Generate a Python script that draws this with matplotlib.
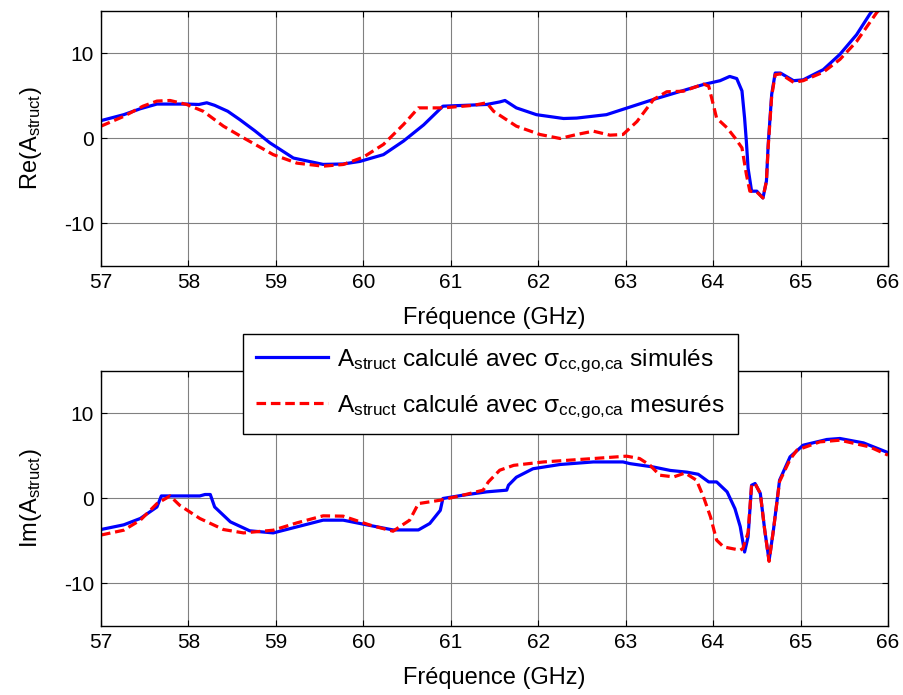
import matplotlib
matplotlib.use('Agg')
import matplotlib.pyplot as plt

plt.rcParams['font.family'] = ['Liberation Sans', 'DejaVu Sans']
plt.rcParams['mathtext.fontset'] = 'custom'
plt.rcParams['mathtext.rm'] = 'Liberation Sans'
plt.rcParams['mathtext.it'] = 'Liberation Sans:italic'
plt.rcParams['axes.unicode_minus'] = False

# Re(A_struct), simulated sigma (blue)
re_sim_f = [57.0, 57.26, 57.45, 57.64, 57.98, 58.12, 58.21, 58.3, 58.45, 58.59, 58.76, 58.93, 59.2,
            59.54, 59.77, 59.96, 60.23, 60.46, 60.69, 60.91, 61.41, 61.56, 61.62, 61.75, 61.98,
            62.29, 62.44, 62.78, 63.05, 63.32, 63.58, 63.89, 64.08, 64.19, 64.27, 64.33, 64.36,
            64.38, 64.40, 64.44, 64.50, 64.57, 64.61, 64.63, 64.67, 64.71, 64.77, 64.92, 65.03,
            65.26, 65.45, 65.64, 65.79, 66.0]
re_sim = [2.1, 2.8, 3.5, 4.05, 4.05, 4.0, 4.2, 3.9, 3.2, 2.2, 0.9, -0.5, -2.3,
          -3.05, -3.0, -2.7, -1.9, -0.3, 1.6, 3.8, 4.0, 4.3, 4.47, 3.6, 2.8,
          2.35, 2.4, 2.8, 3.7, 4.6, 5.4, 6.35, 6.8, 7.3, 7.05, 5.6, 2.4,
          -0.3, -3.5, -6.2, -6.2, -7.0, -5.0, -0.7, 5.2, 7.7, 7.7, 6.8, 6.9,
          8.1, 9.9, 12.2, 14.6, 17.5]

# Re(A_struct), measured sigma (red)
re_mes_f = [57.0, 57.26, 57.48, 57.64, 57.79, 57.98, 58.17, 58.4, 58.63, 58.97, 59.24, 59.54,
            59.77, 60.0, 60.23, 60.46, 60.63, 60.91, 61.26, 61.41, 61.49, 61.75, 62.02, 62.25,
            62.44, 62.63, 62.82, 62.97, 63.13, 63.32, 63.47, 63.66, 63.89, 63.95, 64.04, 64.16,
            64.25, 64.33, 64.38, 64.42, 64.50, 64.57, 64.61, 64.63, 64.67, 64.71, 64.77, 64.92,
            65.03, 65.26, 65.45, 65.64, 65.87, 66.0]
re_mes = [1.45, 2.6, 3.8, 4.4, 4.47, 4.0, 3.2, 1.45, 0.07, -1.9, -2.9, -3.26,
          -3.06, -2.2, -0.7, 1.65, 3.6, 3.6, 3.9, 4.2, 3.2, 1.45, 0.47, 0.0,
          0.47, 0.86, 0.39, 0.47, 2.0, 4.6, 5.5, 5.56, 6.4, 6.15, 2.4, 1.25,
          0.07, -1.1, -4.2, -6.2, -6.3, -7.0, -5.0, -1.0, 5.0, 7.5, 7.6, 6.6,
          6.8, 7.8, 9.3, 11.4, 14.8, 16.3]

# Im(A_struct), simulated sigma (blue)
im_sim_f = [57.0, 57.26, 57.45, 57.64, 57.69, 58.13, 58.19, 58.25, 58.3, 58.48, 58.7, 58.97,
            59.24, 59.54, 59.77, 60.04, 60.34, 60.63, 60.76, 60.88, 60.91, 61.14, 61.41, 61.64,
            61.66, 61.75, 61.94, 62.25, 62.63, 62.97, 63.05, 63.32, 63.51, 63.7, 63.83, 63.95,
            64.04, 64.16, 64.25, 64.31, 64.36, 64.40, 64.44, 64.48, 64.54, 64.59, 64.64, 64.69,
            64.76, 64.88, 65.03, 65.3, 65.45, 65.72, 66.0]
im_sim = [-3.65, -3.1, -2.35, -1.0, 0.3, 0.3, 0.47, 0.47, -1.0, -2.75, -3.8, -4.05,
          -3.34, -2.55, -2.55, -3.1, -3.7, -3.7, -2.94, -1.4, 0.0, 0.39, 0.78, 0.98,
          1.56, 2.5, 3.5, 4.0, 4.3, 4.3, 4.1, 3.7, 3.3, 3.1, 2.85, 1.95,
          1.95, 0.78, -1.2, -3.3, -6.3, -4.5, 1.56, 1.76, 0.59, -3.7, -7.3, -3.7,
          2.15, 4.9, 6.27, 6.94, 7.06, 6.54, 5.4]

# Im(A_struct), measured sigma (red)
im_mes_f = [57.0, 57.26, 57.45, 57.64, 57.79, 57.9, 58.13, 58.4, 58.63, 58.97, 59.24, 59.54,
            59.77, 60.08, 60.34, 60.53, 60.63, 60.88, 61.14, 61.37, 61.43, 61.56, 61.72, 62.06,
            62.63, 63.01, 63.16, 63.28, 63.39, 63.55, 63.68, 63.81, 63.89, 63.97, 64.04, 64.12,
            64.31, 64.34, 64.40, 64.44, 64.48, 64.54, 64.59, 64.64, 64.69, 64.76, 64.88, 64.96,
            65.22, 65.45, 65.79, 66.0]
im_mes = [-4.3, -3.73, -2.55, -0.6, 0.3, -0.8, -2.35, -3.65, -4.05, -3.73, -2.87, -2.04,
          -2.08, -3.14, -3.85, -2.55, -0.6, -0.2, 0.39, 0.98, 1.95, 3.33, 3.9, 4.3,
          4.7, 4.98, 4.7, 3.9, 2.74, 2.54, 3.0, 2.15, 0.19, -2.16, -4.9, -5.7,
          -6.08, -5.9, -4.0, 1.56, 1.76, 0.59, -3.7, -7.4, -3.7, 2.0, 4.6, 5.7,
          6.66, 6.86, 6.07, 5.1]

x_ticks = [57, 58, 59, 60, 61, 62, 63, 64, 65, 66]
y_ticks = [-10, 0, 10]

fig = plt.figure(figsize=(9.04, 6.95), dpi=100)
ax1 = fig.add_axes([0.1117, 0.6173, 0.8706, 0.3669])
ax2 = fig.add_axes([0.1117, 0.0993, 0.8706, 0.3669])

fs_tick = 15
fs_lab = 17
lw = 2.3
for ax, fsim, ys, fm, ym, lab in [(ax1, re_sim_f, re_sim, re_mes_f, re_mes, 'Re'),
                                   (ax2, im_sim_f, im_sim, im_mes_f, im_mes, 'Im')]:
    l1, = ax.plot(fsim, ys, color='#0000ff', lw=lw, solid_joinstyle='round')
    l2, = ax.plot(fm, ym, color='#ff0000', lw=lw, linestyle=(0, (3, 1.5)))
    ax.set_xlim(57, 66)
    ax.set_ylim(-15, 15)
    ax.set_xticks(x_ticks)
    ax.set_yticks(y_ticks)
    ax.grid(True, color='#808080', lw=0.8)
    ax.tick_params(direction='in', top=True, right=True, length=4, labelsize=fs_tick,
                   width=0.8, pad=5)
    ax.set_xlabel('Fréquence (GHz)', fontsize=fs_lab, labelpad=11)
    ax.set_ylabel(lab + r'(A$_{\text{struct}}$)', fontsize=fs_lab, labelpad=14)
    for s in ax.spines.values():
        s.set_linewidth(1.0)

leg = fig.legend([l1, l2],
                 [r'A$_{\text{struct}}$ calculé avec σ$_{\text{cc,go,ca}}$ simulés',
                  r'A$_{\text{struct}}$ calculé avec σ$_{\text{cc,go,ca}}$ mesurés'],
                 loc='upper left', bbox_to_anchor=(0.2685, 0.5194), borderaxespad=0,
                 fontsize=17.6, fancybox=False, edgecolor='black', framealpha=1,
                 handlelength=2.95, handletextpad=0.35, borderpad=0.55, labelspacing=0.75)
leg.get_frame().set_linewidth(1.0)

fig.savefig('out.png', dpi=100)
